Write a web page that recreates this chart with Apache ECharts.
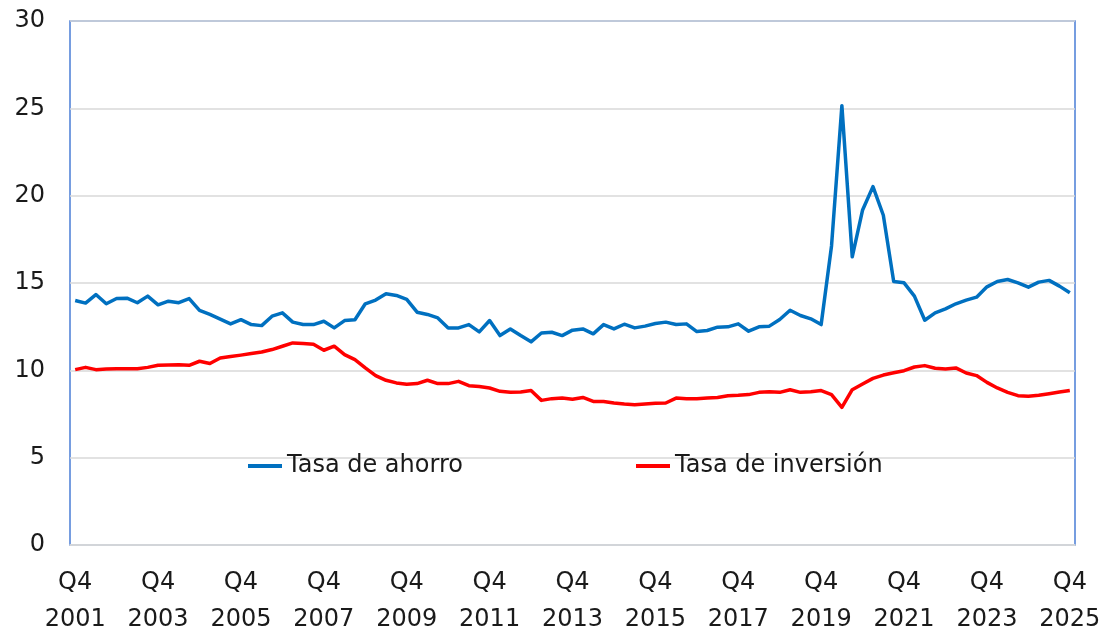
<!DOCTYPE html>
<html>
<head>
<meta charset="utf-8">
<script src="https://cdn.jsdelivr.net/npm/echarts@6/dist/echarts.min.js"></script>
<style>
html,body{margin:0;padding:0;background:#fff;}
#chart{width:1102px;height:630px;}
</style>
</head>
<body>
<div id="chart"></div>
<script>
// Quarters from Q4 2001 to Q4 2025
const startYear = 2001, startQuarter = 4, nQuarters = 97;
const seriesNames = ['Tasa de ahorro', 'Tasa de inversión'];
const yTicks = [0, 5, 10, 15, 20, 25, 30];

const ahorro = [
  14.00, 13.85, 14.34, 13.81, 14.11, 14.13, 13.87, 14.25, 13.75, 13.96,
  13.87, 14.11, 13.43, 13.20, 12.93, 12.66, 12.90, 12.62, 12.56, 13.10,
  13.29, 12.76, 12.62, 12.62, 12.81, 12.43, 12.85, 12.90, 13.81, 14.02,
  14.38, 14.29, 14.06, 13.33, 13.20, 13.00, 12.43, 12.43, 12.62, 12.20,
  12.85, 11.99, 12.37, 11.99, 11.63, 12.14, 12.18, 11.99, 12.30, 12.37,
  12.09, 12.62, 12.37, 12.64, 12.43, 12.53, 12.68, 12.76, 12.62, 12.66,
  12.22, 12.28, 12.47, 12.49, 12.66, 12.24, 12.49, 12.53, 12.91, 13.44,
  13.14, 12.95, 12.62, 17.12, 25.15, 16.50, 19.18, 20.52, 18.88, 15.08,
  15.01, 14.25, 12.87, 13.29, 13.52, 13.81, 14.02, 14.19, 14.78, 15.09,
  15.20, 15.01, 14.76, 15.05, 15.15, 14.82, 14.44
];
const inversion = [
  10.04, 10.17, 10.04, 10.07, 10.09, 10.09, 10.09, 10.17, 10.29, 10.30,
  10.32, 10.29, 10.52, 10.39, 10.71, 10.79, 10.87, 10.96, 11.05, 11.19,
  11.38, 11.57, 11.53, 11.49, 11.15, 11.38, 10.90, 10.61, 10.14, 9.70,
  9.43, 9.28, 9.20, 9.24, 9.43, 9.24, 9.24, 9.37, 9.12, 9.08,
  8.99, 8.80, 8.74, 8.76, 8.84, 8.28, 8.38, 8.41, 8.34, 8.45,
  8.22, 8.22, 8.13, 8.07, 8.03, 8.07, 8.11, 8.13, 8.41, 8.38,
  8.38, 8.41, 8.45, 8.55, 8.57, 8.61, 8.74, 8.78, 8.74, 8.89,
  8.74, 8.78, 8.84, 8.61, 7.88, 8.89, 9.22, 9.54, 9.73, 9.86,
  9.98, 10.19, 10.27, 10.12, 10.08, 10.14, 9.85, 9.70, 9.31, 8.99,
  8.74, 8.55, 8.51, 8.57, 8.66, 8.76, 8.85
];

const categories = [];
for (let i = 0; i < nQuarters; i++) {
  const idx = (startQuarter - 1) + i;
  const year = startYear + Math.floor(idx / 4);
  const q = (idx % 4) + 1;
  categories.push('Q' + q + '\n' + year);
}

const FONT = 'DejaVu Sans';
const FS = 24;
const chart = echarts.init(document.getElementById('chart'), null, {renderer: 'canvas'});
chart.setOption({
  backgroundColor: '#ffffff',
  animation: false,
  textStyle: {fontFamily: FONT},
  grid: {
    left: 70, right: 27, top: 21, bottom: 85,
    containLabel: false, outerBoundsMode: 'none',
    show: true, borderColor: '#4a7ed6', borderWidth: 1.5, backgroundColor: 'transparent'
  },
  legend: [
    {
      data: [seriesNames[0]], left: 248, top: 454, padding: 0,
      icon: 'rect', itemWidth: 34, itemHeight: 4, itemGap: 6,
      textStyle: {fontFamily: FONT, fontSize: FS, color: '#1a1a1a'}
    },
    {
      data: [seriesNames[1]], left: 636, top: 454, padding: 0,
      icon: 'rect', itemWidth: 34, itemHeight: 4, itemGap: 6,
      textStyle: {fontFamily: FONT, fontSize: FS, color: '#1a1a1a'}
    }
  ],
  xAxis: {
    type: 'category',
    data: categories,
    boundaryGap: true,
    axisLine: {show: true, lineStyle: {color: '#d9d9d9', width: 1.5}},
    axisTick: {show: false},
    axisLabel: {
      interval: 7,
      fontFamily: FONT, fontSize: FS, color: '#1a1a1a',
      lineHeight: 37, margin: 19
    },
    splitLine: {show: false}
  },
  yAxis: {
    type: 'value',
    min: yTicks[0], max: yTicks[yTicks.length - 1], interval: 5,
    axisLine: {show: false},
    axisTick: {show: false},
    axisLabel: {fontFamily: FONT, fontSize: FS, color: '#1a1a1a', margin: 25},
    splitLine: {show: true, lineStyle: {color: '#d9d9d9', width: 1.5}}
  },
  series: [
    {
      name: seriesNames[0], type: 'line', data: ahorro,
      symbol: 'none', smooth: false,
      lineStyle: {color: '#0070C0', width: 3.5, join: 'round'},
      itemStyle: {color: '#0070C0'}
    },
    {
      name: seriesNames[1], type: 'line', data: inversion,
      symbol: 'none', smooth: false,
      lineStyle: {color: '#FF0000', width: 3.5, join: 'round'},
      itemStyle: {color: '#FF0000'}
    }
  ]
});
</script>
</body>
</html>
